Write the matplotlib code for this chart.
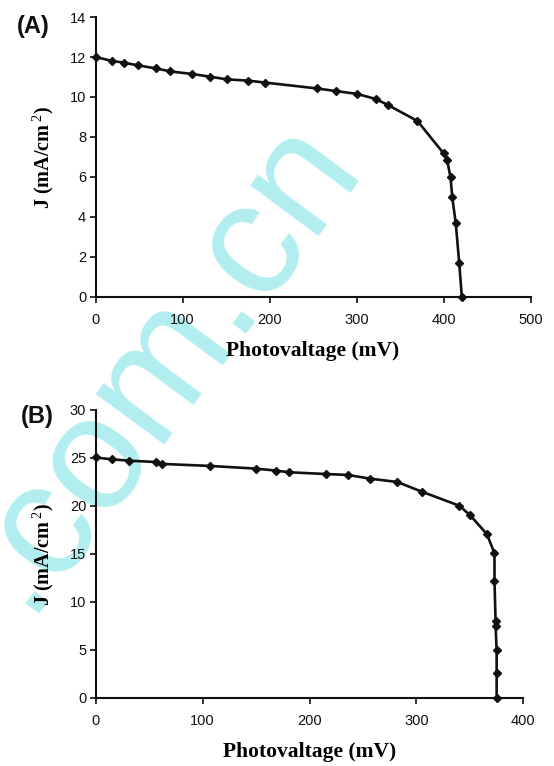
import matplotlib
matplotlib.use("Agg")
import matplotlib.pyplot as plt

plt.rcParams['mathtext.fontset'] = 'custom'
plt.rcParams['mathtext.rm'] = 'Liberation Serif'
plt.rcParams['mathtext.bf'] = 'Liberation Serif:bold'
plt.rcParams['mathtext.it'] = 'Liberation Serif:italic'

# Panel A data
a_v = [0, 19, 32, 49, 69, 86, 111, 131, 151, 175, 195, 254, 276, 301, 322, 336, 370, 400, 404, 408, 410, 414, 418, 421]
a_j = [12.0, 11.8, 11.72, 11.58, 11.43, 11.28, 11.15, 11.02, 10.88, 10.82, 10.72, 10.43, 10.3, 10.15, 9.9, 9.6, 8.8, 7.18, 6.85, 5.98, 4.98, 3.68, 1.68, 0.0]

# Panel B data
b_v = [0, 15, 31, 56, 62, 107, 150, 169, 181, 215, 236, 257, 282, 305, 340, 350, 366, 373, 373, 374, 374, 375, 375, 375]
b_j = [25.05, 24.86, 24.72, 24.58, 24.38, 24.17, 23.89, 23.68, 23.51, 23.33, 23.23, 22.84, 22.5, 21.49, 20.03, 19.06, 17.05, 15.07, 12.2, 8.02, 7.5, 5.0, 2.57, 0.0]

a_xticks = [0, 100, 200, 300, 400, 500]
a_yticks = [0, 2, 4, 6, 8, 10, 12, 14]
b_xticks = [0, 100, 200, 300, 400]
b_yticks = [0, 5, 10, 15, 20, 25, 30]

x_label = "Photovaltage (mV)"
y_label = r"J (mA/cm$^{\ 2}$)"

W, H = 554, 766
fig = plt.figure(figsize=(W / 100, H / 100), dpi=100)

sans = ["Liberation Sans", "DejaVu Sans"]
serif = ["Liberation Serif", "DejaVu Serif"]
tick_font = dict(family=sans, size=10.5)
xlab_font = dict(family=serif, size=15.5, weight="bold")
ylab_font = dict(family=serif, size=14.5, weight="bold")


def make(rect, xs, ys, xlim, ylim, xt, yt, letter, letter_xy):
    ax = fig.add_axes(rect)
    ax.set_zorder(1)
    ax.patch.set_alpha(0)
    ax.plot(xs, ys, color="#111111", lw=1.9, marker="D", ms=4.5, mfc="#111111",
            mec="#111111", zorder=3, clip_on=False)
    ax.set_xlim(*xlim)
    ax.set_ylim(*ylim)
    ax.set_xticks(xt)
    ax.set_yticks(yt)
    ax.set_xticklabels([str(t) for t in xt], fontdict=tick_font)
    ax.set_yticklabels([str(t) for t in yt], fontdict=tick_font)
    for s in ("top", "right"):
        ax.spines[s].set_visible(False)
    for s in ("left", "bottom"):
        ax.spines[s].set_linewidth(1.5)
        ax.spines[s].set_color("#111111")
    ax.tick_params(direction="out", length=4.3, width=1.2, colors="#111111")
    ax.tick_params(axis="x", pad=7)
    ax.tick_params(axis="y", pad=2.5)
    ax.set_xlabel(x_label, fontdict=xlab_font, labelpad=10)
    ax.set_ylabel(y_label, fontdict=ylab_font, labelpad=10)
    fig.text(letter_xy[0] / W, 1 - letter_xy[1] / H, letter,
             family=sans, size=17, weight="bold",
             va="center", ha="left", color="#111111")
    return ax


axA = make([0.1727, 0.6123, 0.785, 0.3655], a_v, a_j, (0, 500), (0, 14),
           a_xticks, a_yticks, "(A)", (17, 26))
axB = make([0.1727, 0.0888, 0.772, 0.376], b_v, b_j, (0, 400), (0, 30),
           b_xticks, b_yticks, "(B)", (21, 417))

# watermark
fig.text(25 / W, 1 - 614 / H, ".com.cn", color="#b2eef0", size=116, family=sans,
         rotation=53.5, rotation_mode="anchor", ha="left", va="baseline", zorder=0)

fig.savefig("out.png", dpi=100)
